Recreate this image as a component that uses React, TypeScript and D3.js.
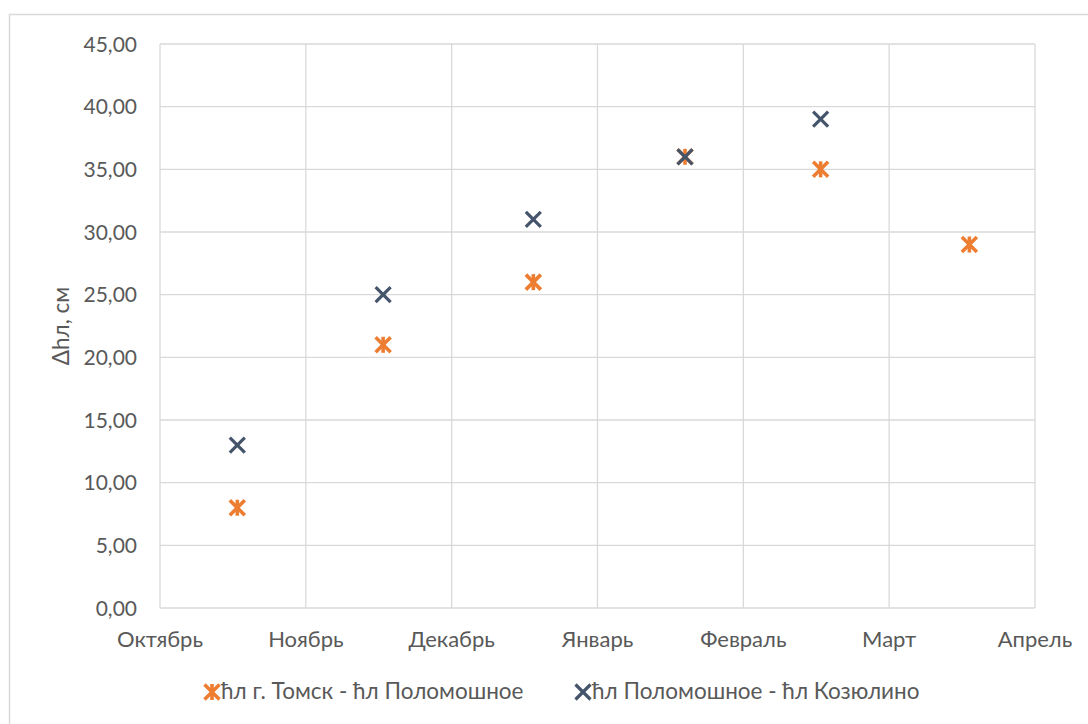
// Scatter chart: ice thickness difference by month.

import * as d3 from "d3";

const months = ["Октябрь", "Ноябрь", "Декабрь", "Январь", "Февраль", "Март", "Апрель"];
const yTicks = [0, 5, 10, 15, 20, 25, 30, 35, 40, 45];

// x positions are read in month units from the axis
const tomskX = [0.53, 1.53, 2.56, 3.6, 4.53, 5.55];
const tomskY = [8, 21, 26, 36, 35, 29];
const kozX = [0.53, 1.53, 2.56, 3.6, 4.53];
const kozY = [13, 25, 31, 36, 39];

const seriesNames = ["ħл г. Томск - ħл Поломошное", "ħл Поломошное - ħл Козюлино"];
const colors = ["#ED7D31", "#44546A"];

const FONT = "Lato, 'Open Sans', sans-serif";
const TEXT = "#595959";
const GRID = "#D9D9D9";

function Cross({ x, y, color, star }: { x: number; y: number; color: string; star?: boolean }) {
  const s = 7.5;
  return (
    <g stroke={color} strokeWidth={star ? 3.6 : 3.2} strokeLinecap="butt">
      <line x1={x - s} y1={y - s} x2={x + s} y2={y + s} />
      <line x1={x - s} y1={y + s} x2={x + s} y2={y - s} />
      {star && <line x1={x} y1={y - s - 0.5} x2={x} y2={y + s + 0.5} />}
    </g>
  );
}

export default function App() {
  const width = 1088;
  const height = 724;
  const [mTop, mRight, mBottom, mLeft] = [44, 53, 116, 160];

  const scaleX = d3.scaleLinear([0, 6], [mLeft, width - mRight]);
  const scaleY = d3.scaleLinear([0, 45], [height - mBottom, mTop]);

  return (
    <svg
      width={width}
      height={height}
      style={{ position: "absolute", left: 0, top: 0, background: "#fff" }}
      fontFamily={FONT}
    >
      <rect x={9.5} y={14.5} width={width} height={height} fill="#fff" stroke={GRID} strokeWidth={1.5} />

      {/* grid */}
      <g stroke={GRID} strokeWidth={1.3}>
        {yTicks.map((t) => (
          <line key={`h${t}`} x1={mLeft} x2={width - mRight} y1={scaleY(t)} y2={scaleY(t)} />
        ))}
        {months.map((m, i) => (
          <line key={m} x1={scaleX(i)} x2={scaleX(i)} y1={mTop} y2={height - mBottom} />
        ))}
      </g>

      {/* y ticks */}
      <g fill={TEXT} fontSize={21} textAnchor="end">
        {yTicks.map((t) => (
          <text key={t} x={mLeft - 23} y={scaleY(t)} dy="0.36em">
            {d3.format(".2f")(t).replace(".", ",")}
          </text>
        ))}
      </g>

      {/* x labels */}
      <g fill={TEXT} fontSize={22} textAnchor="middle">
        {months.map((m, i) => (
          <text key={m} x={scaleX(i)} y={height - mBottom + 39}>
            {m}
          </text>
        ))}
      </g>

      <text
        transform={`translate(69, ${(mTop + height - mBottom) / 2}) rotate(-90)`}
        textAnchor="middle"
        fill={TEXT}
        fontSize={22.5}
      >
        Δhл, см
      </text>

      {/* points: second series drawn on top */}
      {tomskX.map((x, i) => (
        <Cross key={`t${i}`} x={scaleX(x)} y={scaleY(tomskY[i])} color={colors[0]} star />
      ))}
      {kozX.map((x, i) => (
        <Cross key={`k${i}`} x={scaleX(x)} y={scaleY(kozY[i])} color={colors[1]} />
      ))}

      {/* legend */}
      <g fontSize={22.5} fill={TEXT}>
        <Cross x={212} y={692} color={colors[0]} star />
        <text x={221} y={699}>{seriesNames[0]}</text>
        <Cross x={583} y={692} color={colors[1]} />
        <text x={592} y={699}>{seriesNames[1]}</text>
      </g>
    </svg>
  );
}
